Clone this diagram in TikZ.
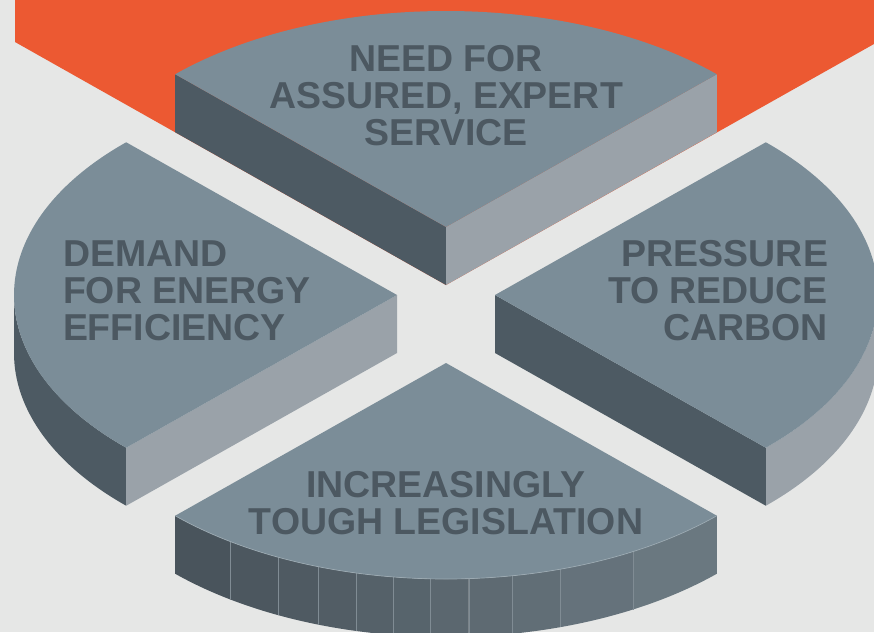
\documentclass[tikz,border=0pt]{standalone}
\usepackage{fontspec}
\setmainfont{Liberation Sans}
\usetikzlibrary{calc}
\definecolor{bggrey}{RGB}{230,231,230}
\definecolor{orng}{RGB}{236,89,50}
\definecolor{facegrey}{RGB}{123,141,152}
\definecolor{sidedark}{RGB}{77,90,99}
\definecolor{sidelight}{RGB}{154,162,169}
\definecolor{stripdark}{RGB}{73,84,92}
\definecolor{striplight}{RGB}{106,120,128}
\definecolor{stripline}{RGB}{128,140,148}
\definecolor{txtgrey}{RGB}{76,88,97}
\begin{document}
\begin{tikzpicture}[x=0.75pt,y=0.75pt,yscale=-1,xscale=1,
  pietext/.style={font=\fontsize{28.1}{27.75}\selectfont\bfseries, text=txtgrey, inner sep=0, outer sep=0},
  ell/.style={x radius=383, y radius=216}]
%Frame
\useasboundingbox (0,0) rectangle (874,632);
\fill [bggrey] (0,0) rectangle (874,632);
%Centres of the four pie pieces
\coordinate (ctop) at (446,227);
\coordinate (cleft) at (397,295);
\coordinate (cright) at (495,295);
\coordinate (cbot) at (446,363);
%Orange backdrop
\fill [orng] (15,0) -- (874,0) -- (874,44) -- (446,285) -- (15,42) -- cycle;

%Pie piece: top
\fill [sidedark] (ctop) -- ++(225:383 and 216) -- ++(0,58) -- ($(ctop)+(0,58)$) -- cycle;
\fill [sidelight] (ctop) -- ++(315:383 and 216) -- ++(0,58) -- ($(ctop)+(0,58)$) -- cycle;
\fill [facegrey] (ctop) -- ++(225:383 and 216) arc [start angle=225, end angle=315, ell] -- cycle;
%Pie piece: left
\fill [sidedark] (cleft) ++(180:383 and 216) arc [start angle=180, end angle=135, ell] -- ++(0,58) arc [start angle=135, end angle=180, ell] -- cycle;
\fill [sidelight] (cleft) -- ++(135:383 and 216) -- ++(0,58) -- ($(cleft)+(0,58)$) -- cycle;
\fill [facegrey] (cleft) -- ++(135:383 and 216) arc [start angle=135, end angle=225, ell] -- cycle;
%Pie piece: right
\fill [sidelight] (cright) ++(0:383 and 216) arc [start angle=0, end angle=45, ell] -- ++(0,58) arc [start angle=45, end angle=0, ell] -- cycle;
\fill [sidedark] (cright) -- ++(45:383 and 216) -- ++(0,58) -- ($(cright)+(0,58)$) -- cycle;
\fill [facegrey] (cright) -- ++(-45:383 and 216) arc [start angle=-45, end angle=45, ell] -- cycle;
%Pie piece: bottom, rim in strips
\foreach \a/\b/\p in {135/124.3/0, 124.3/116/8, 116/109.5/17, 109.5/103.6/26, 103.6/97.9/35, 97.9/92.4/44, 92.4/86.6/53, 86.6/80.1/62, 80.1/72.7/72, 72.7/60.8/85, 60.8/45/100}
  \fill [striplight!\p!stripdark] (cbot) ++(\a:383 and 216) arc [start angle=\a, end angle=\b, ell] -- ++(0,58) arc [start angle=\b, end angle=\a, ell] -- cycle;
\foreach \a in {124.3,116,109.5,103.6,97.9,92.4,86.6,80.1,72.7,60.8}
  \draw [stripline, line width=0.3] (cbot) ++(\a:383 and 216) -- ++(0,58);
\fill [facegrey] (cbot) -- ++(45:383 and 216) arc [start angle=45, end angle=135, ell] -- cycle;
\draw [facegrey!75!white, line width=0.5] (cbot) ++(45:383 and 216) arc [start angle=45, end angle=135, ell];

%Texts (base = baseline of the last line)
\node [pietext, align=center, anchor=base] (needtxt) at (446,145) {NEED FOR\\ASSURED, EXPERT\\SERVICE};
\node [pietext, align=left, anchor=base west] (demandtxt) at (63,340) {DEMAND\\FOR ENERGY\\EFFICIENCY};
\node [pietext, align=right, anchor=base east] (pressuretxt) at (828,340) {PRESSURE\\TO REDUCE\\CARBON};
\node [pietext, align=center, anchor=base] (toughtxt) at (446,534) {INCREASINGLY\\TOUGH LEGISLATION};
\end{tikzpicture}
\end{document}
